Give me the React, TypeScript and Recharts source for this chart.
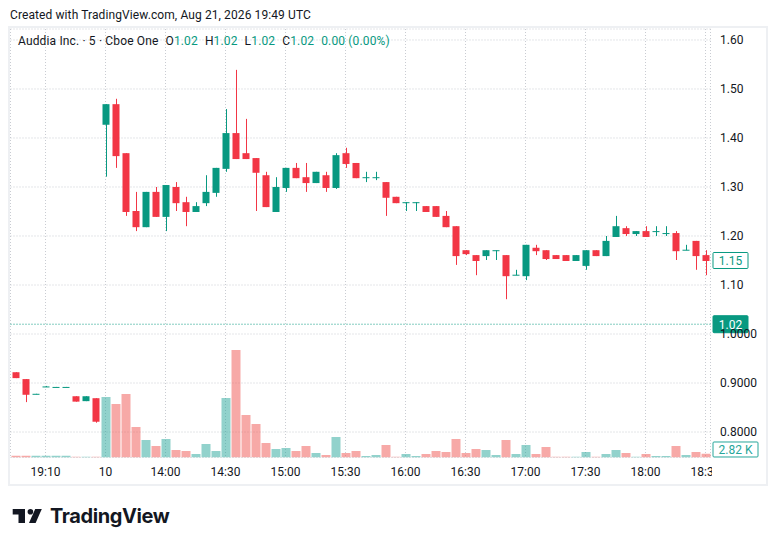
import React from "react";
import {
  ComposedChart,
  Bar,
  Cell,
  XAxis,
  YAxis,
  CartesianGrid,
  ReferenceLine,
} from "recharts";

// 5-minute candles, Auddia Inc. (Cboe One)
const times = [
  "18:55", "19:00", "19:05", "19:10", "19:15", "19:20", "19:25", "19:30", "19:35",
  "13:30", "13:35", "13:40", "13:45", "13:50", "13:55",
  "14:00", "14:05", "14:10", "14:15", "14:20", "14:25",
  "14:30", "14:35", "14:40", "14:45", "14:50", "14:55",
  "15:00", "15:05", "15:10", "15:15", "15:20", "15:25",
  "15:30", "15:35", "15:40", "15:45", "15:50", "15:55",
  "16:00", "16:05", "16:10", "16:15", "16:20", "16:25",
  "16:30", "16:35", "16:40", "16:45", "16:50", "16:55",
  "17:00", "17:05", "17:10", "17:15", "17:20", "17:25",
  "17:30", "17:35", "17:40", "17:45", "17:50", "17:55",
  "18:00", "18:05", "18:10", "18:15", "18:20", "18:25",
  "18:30",
];

const opens = [
  0.922, 0.908, 0.877, 0.892, 0.8915, 0.8915, 0.873, 0.863, 0.869,
  1.427, 1.469, 1.369, 1.251, 1.218, 1.29, 1.239, 1.3, 1.269, 1.249, 1.267,
  1.288, 1.337, 1.41, 1.369, 1.359, 1.324, 1.249, 1.298, 1.339, 1.32, 1.308,
  1.324, 1.298, 1.369, 1.349, 1.319, 1.319, 1.31, 1.28, 1.268, 1.268, 1.261,
  1.261, 1.241, 1.22, 1.171, 1.161, 1.159, 1.17, 1.161, 1.12, 1.118, 1.176,
  1.171, 1.161, 1.161, 1.149, 1.139, 1.171, 1.159, 1.198, 1.216, 1.204, 1.21,
  1.209, 1.205, 1.206, 1.171, 1.19, 1.161,
];

const highs = [
  0.922, 0.908, 0.878, 0.894, 0.892, 0.892, 0.873, 0.873, 0.869,
  1.469, 1.48, 1.369, 1.29, 1.29, 1.3, 1.304, 1.31, 1.28, 1.269, 1.324,
  1.339, 1.459, 1.539, 1.439, 1.359, 1.331, 1.32, 1.339, 1.349, 1.349, 1.331,
  1.331, 1.369, 1.38, 1.349, 1.331, 1.331, 1.31, 1.28, 1.269, 1.269, 1.261,
  1.261, 1.251, 1.22, 1.171, 1.161, 1.171, 1.171, 1.161, 1.131, 1.182, 1.182,
  1.171, 1.161, 1.161, 1.161, 1.171, 1.171, 1.2, 1.241, 1.22, 1.21, 1.22,
  1.22, 1.22, 1.21, 1.182, 1.19, 1.171,
];

const lows = [
  0.91, 0.861, 0.877, 0.892, 0.8915, 0.8915, 0.862, 0.863, 0.819,
  1.321, 1.339, 1.241, 1.21, 1.218, 1.239, 1.21, 1.251, 1.22, 1.249, 1.261,
  1.28, 1.331, 1.357, 1.357, 1.251, 1.259, 1.249, 1.29, 1.318, 1.29, 1.308,
  1.29, 1.296, 1.339, 1.318, 1.31, 1.314, 1.241, 1.267, 1.251, 1.251, 1.249,
  1.239, 1.218, 1.141, 1.161, 1.12, 1.151, 1.151, 1.071, 1.12, 1.11, 1.161,
  1.151, 1.153, 1.149, 1.149, 1.131, 1.159, 1.159, 1.198, 1.2, 1.2, 1.198,
  1.2, 1.2, 1.151, 1.171, 1.131, 1.12,
];

const closes = [
  0.91, 0.876, 0.878, 0.893, 0.892, 0.892, 0.862, 0.873, 0.821,
  1.469, 1.363, 1.249, 1.218, 1.29, 1.239, 1.304, 1.267, 1.249, 1.261, 1.29,
  1.339, 1.41, 1.357, 1.357, 1.329, 1.259, 1.3, 1.339, 1.318, 1.308, 1.331,
  1.298, 1.365, 1.347, 1.318, 1.32, 1.32, 1.278, 1.267, 1.269, 1.269, 1.249,
  1.239, 1.218, 1.159, 1.163, 1.149, 1.171, 1.171, 1.118, 1.121, 1.182, 1.169,
  1.153, 1.153, 1.149, 1.161, 1.171, 1.159, 1.19, 1.22, 1.204, 1.21, 1.198,
  1.21, 1.206, 1.169, 1.172, 1.159, 1.149,
];

// volume in thousands
const volumes = [
  1.4, 1.4, 1.4, 1.4, 1.4, 1.4, 0.6, 0.6, 0.6,
  46, 40.7, 48.3, 23.2, 13.3, 8.7, 14.1, 5.7, 4.9, 2.7, 10.3,
  4.9, 45.2, 81.7, 32.3, 25.5, 11, 6.5, 7.2, 4.9, 8.7, 3.4,
  1.9, 15.6, 3.4, 4.9, 1.1, 1.9, 9.5, 0.6, 2.7, 1.1, 2.7,
  4.9, 4.2, 14.1, 3.4, 6.5, 5.7, 1.9, 13.3, 2.7, 9.5, 2.7,
  8.0, 0.6, 0.6, 0.6, 4.2, 0.6, 2.7, 5.7, 3.4, 0.6, 2.7,
  1.1, 1.1, 8.7, 1.9, 4.2, 2.82,
];

const xTicks = ["19:10", "13:30", "14:00", "14:30", "15:00", "15:30", "16:00", "16:30", "17:00", "17:30", "18:00", "18:30"];
const xTickLabels = ["19:10", "10", "14:00", "14:30", "15:00", "15:30", "16:00", "16:30", "17:00", "17:30", "18:00", "18:30"];

const priceTicks = [0.8, 0.9, 1.0, 1.1, 1.2, 1.3, 1.4, 1.5, 1.6];
const priceTickLabels = ["0.8000", "0.9000", "1.0000", "1.10", "1.20", "1.30", "1.40", "1.50", "1.60"];

const lastClose = 1.15;
const legendPrice = 1.02;
const lastVolume = 2.82;

const UP = "#089981";
const DOWN = "#f23645";
const VOL_UP = "rgba(38,166,154,0.5)";
const VOL_DOWN = "rgba(239,83,80,0.5)";
const TEXT = "#131722";
const FONT = "Roboto, 'Noto Sans', sans-serif";

const rows = times.map((t, i) => ({
  time: t,
  open: opens[i],
  high: highs[i],
  low: lows[i],
  close: closes[i],
  volume: volumes[i],
}));

function Candle(props: any) {
  const { x, y, width, height, payload } = props;
  if (!payload) return null;
  const { open, close, high, low } = payload;
  const color = close >= open ? UP : DOWN;
  const top = Math.min(y, y + height);
  const h = Math.abs(height);
  const k = h / (high - low || 1);
  const yO = top + (high - open) * k;
  const yC = top + (high - close) * k;
  const bodyTop = Math.min(yO, yC);
  const bodyH = Math.max(1, Math.abs(yO - yC));
  const cx = Math.floor(x + width / 2) + 0.5;
  return (
    <g>
      <line x1={cx} x2={cx} y1={top} y2={top + h} stroke={color} strokeWidth={1} />
      <rect x={x} y={bodyTop} width={width} height={bodyH} fill={color} />
    </g>
  );
}

function XTick(props: any) {
  const { x, y, payload } = props;
  const i = xTicks.indexOf(payload.value);
  return (
    <text
      x={x}
      y={y}
      textAnchor="middle"
      fontSize={12}
      fontFamily={FONT}
      fill={TEXT}
      clipPath="url(#xclip)"
    >
      {i >= 0 ? xTickLabels[i] : payload.value}
    </text>
  );
}

function priceLabel(v: number) {
  const i = priceTicks.findIndex((t) => Math.abs(t - v) < 1e-6);
  return i >= 0 ? priceTickLabels[i] : String(v);
}

function Tag(props: any) {
  const { viewBox, text, filled, color, w, dy = 0, h = 17 } = props;
  if (!viewBox) return null;
  const x0 = viewBox.x + viewBox.width + 2.5;
  const cy = viewBox.y + dy;
  return (
    <g>
      <rect
        x={x0}
        y={cy - h / 2}
        width={w}
        height={h}
        rx={1}
        fill={filled ? color : "#ffffff"}
        stroke={color}
        strokeWidth={1}
      />
      <text
        x={x0 + w / 2}
        y={cy}
        dy="0.36em"
        textAnchor="middle"
        fontSize={12}
        fontFamily={FONT}
        fill={filled ? "#ffffff" : color}
      >
        {text}
      </text>
    </g>
  );
}

function Logo() {
  return (
    <div style={{ position: "absolute", left: 12, top: 506, display: "flex", alignItems: "center" }}>
      <svg width={32} height={18} viewBox="0 0 32 18">
        <path d="M0.7 2 H13 V16 H6.5 V7.6 H0.7 Z" fill={TEXT} />
        <circle cx={18.4} cy={4.8} r={2.8} fill={TEXT} />
        <path d="M23.2 2 H29.8 L23.6 16 H17 Z" fill={TEXT} />
      </svg>
      <span
        style={{
          marginLeft: 6,
          fontFamily: "Inter, sans-serif",
          fontWeight: 700,
          fontSize: 20,
          letterSpacing: -0.4,
          color: TEXT,
          lineHeight: "20px",
        }}
      >
        TradingView
      </span>
    </div>
  );
}

export default function App() {
  return (
    <div
      style={{
        position: "absolute",
        left: 0,
        top: 0,
        width: 776,
        height: 546,
        background: "#ffffff",
        fontFamily: FONT,
        color: TEXT,
        overflow: "hidden",
      }}
    >
      <svg width={0} height={0} style={{ position: "absolute" }}>
        <defs>
          <clipPath id="xclip" clipPathUnits="userSpaceOnUse">
            <rect x={0} y={0} width={712} height={546} />
          </clipPath>
        </defs>
      </svg>

      <div style={{ position: "absolute", left: 10, top: 8, fontSize: 12, lineHeight: "14px", letterSpacing: 0.1 }}>
        Created with TradingView.com, Aug 21, 2026 19:49 UTC
      </div>

      <div
        style={{
          position: "absolute",
          left: 8,
          top: 26,
          width: 756,
          height: 456,
          border: "2px solid #eef0f3",
        }}
      />

      <div style={{ position: "absolute", left: 0, top: 0 }}>
        <ComposedChart
          width={776}
          height={546}
          data={rows}
          margin={{ top: 29, right: 10.5, bottom: 60.5, left: 10.5 }}
        >
          <CartesianGrid
            xAxisId="main"
            yAxisId="price"
            stroke="#c9ccd2"
            strokeDasharray="1 2"
          />
          <XAxis
            xAxisId="main"
            dataKey="time"
            ticks={xTicks}
            interval={0}
            axisLine={false}
            tickLine={false}
            tickSize={0}
            tickMargin={18.5}
            height={28}
            tick={<XTick />}
          />
          <XAxis xAxisId="vol" dataKey="time" hide />
          <YAxis
            yAxisId="price"
            orientation="right"
            type="number"
            domain={[0.748, 1.6224]}
            allowDataOverflow
            ticks={priceTicks}
            tickFormatter={priceLabel}
            axisLine={false}
            tickLine={false}
            tickSize={0}
            tickMargin={9.5}
            width={55}
            tick={{ fontSize: 12, fill: TEXT, fontFamily: FONT }}
          />
          <YAxis yAxisId="vol" type="number" domain={[0, 325.7]} allowDataOverflow hide />
          <Bar
            xAxisId="vol"
            yAxisId="vol"
            dataKey="volume"
            barSize={9}
            isAnimationActive={false}
          >
            {rows.map((r, i) => (
              <Cell key={i} fill={r.close >= r.open ? VOL_UP : VOL_DOWN} />
            ))}
          </Bar>
          <Bar
            xAxisId="main"
            yAxisId="price"
            dataKey={(d: any) => [d.low, d.high]}
            barSize={7}
            shape={(p: any) => <Candle {...p} />}
            isAnimationActive={false}
          />
          <ReferenceLine
            xAxisId="main"
            yAxisId="price"
            y={legendPrice}
            stroke={UP}
            strokeDasharray="1 2"
            label={<Tag text="1.02" filled color={UP} w={35} />}
          />
          <ReferenceLine
            xAxisId="main"
            yAxisId="price"
            y={lastClose}
            stroke="none"
            label={<Tag text="1.15" color={UP} w={35} h={16} />}
          />
          <ReferenceLine
            xAxisId="vol"
            yAxisId="vol"
            y={lastVolume}
            stroke="none"
            label={<Tag text="2.82 K" color="#26a69a" w={45} h={15} dy={-4.3} />}
          />
        </ComposedChart>
      </div>

      <div style={{ position: "absolute", left: 18, top: 34, fontSize: 12, lineHeight: "14px", whiteSpace: "nowrap", letterSpacing: 0.15 }}>
        <span>Auddia Inc. · 5 · Cboe One</span>
        <span style={{ marginLeft: 7 }}>O<span style={{ color: UP }}>1.02</span></span>
        <span style={{ marginLeft: 7 }}>H<span style={{ color: UP }}>1.02</span></span>
        <span style={{ marginLeft: 7 }}>L<span style={{ color: UP }}>1.02</span></span>
        <span style={{ marginLeft: 7 }}>C<span style={{ color: UP }}>1.02</span></span>
        <span style={{ marginLeft: 7, color: UP }}>0.00 (0.00%)</span>
      </div>

      <Logo />
    </div>
  );
}
